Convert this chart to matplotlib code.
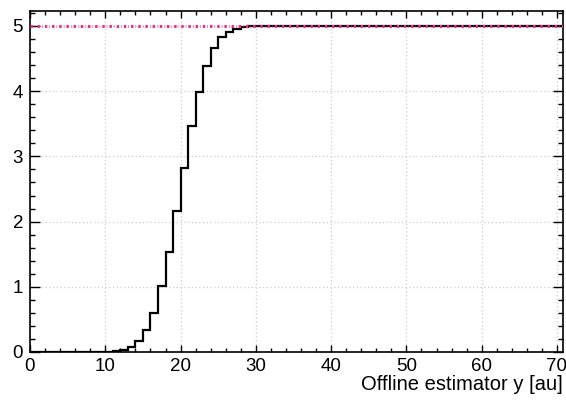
import matplotlib
matplotlib.use("Agg")
import matplotlib.pyplot as plt
import numpy as np
from matplotlib.ticker import MultipleLocator

plt.rcParams['font.family'] = ['Liberation Sans', 'DejaVu Sans']

# Histogram: unit-width bins in the offline estimator
bin_edges = np.arange(0, 72, 1)
bin_values = ([0.0] * 11 +
              [0.01, 0.03, 0.08, 0.17, 0.34, 0.60, 1.01, 1.54, 2.17, 2.82,
               3.46, 3.99, 4.39, 4.66, 4.83, 4.91, 4.96, 4.985, 4.995] +
              [5.0] * 41)
plateau = 5.0

fig = plt.figure(figsize=(5.66, 4.0), dpi=100)
ax = fig.add_axes([0.053, 0.12, 0.9417, 0.8525])

ax.stairs(bin_values, bin_edges, color='black', lw=1.6, baseline=None, zorder=3)
ax.axhline(plateau, color='#e6338c', lw=2.2, linestyle=(0, (0.8, 0.7, 0.15, 0.7)), zorder=4)

ax.set_xlim(0, 70.8)
ax.set_ylim(0, 5.23)

ax.xaxis.set_major_locator(MultipleLocator(10))
ax.xaxis.set_minor_locator(MultipleLocator(2))
ax.yaxis.set_major_locator(MultipleLocator(1))
ax.yaxis.set_minor_locator(MultipleLocator(0.2))

ax.grid(True, which='major', color='#cccccc', linestyle=(0, (1, 2)), lw=0.9, zorder=0)

ax.tick_params(axis='both', which='both', direction='in', top=True, right=True,
               labelsize=13.5, width=1.0)
ax.tick_params(axis='x', which='major', length=5.0, pad=4)
ax.tick_params(axis='x', which='minor', length=2.6)
ax.tick_params(axis='y', which='major', length=7.2, pad=5)
ax.tick_params(axis='y', which='minor', length=3.6)

for s in ax.spines.values():
    s.set_linewidth(1.2)

ax.set_xlabel('Offline estimator y [au]', fontsize=14.5, loc='right', labelpad=0)

fig.savefig('out.png', dpi=100)
